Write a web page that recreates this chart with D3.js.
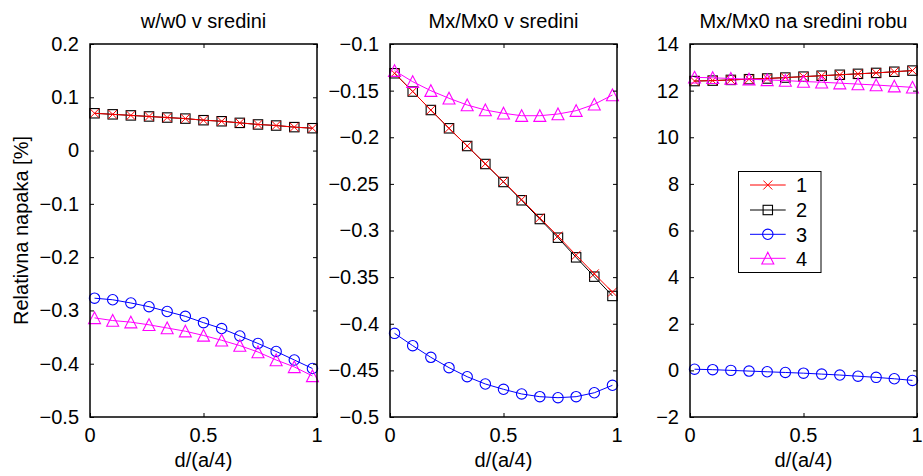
<!DOCTYPE html>
<html><head><meta charset="utf-8">
<script src="https://cdn.jsdelivr.net/npm/d3@7"></script>
<style>
body{margin:0;background:#fff}
text{font-family:"Liberation Sans",Arial,Helvetica,sans-serif;fill:#000}
</style>
</head><body>
<svg id="chart" width="923" height="476"></svg>
<script>
// ---------- data ----------
const xValues = [0.02,0.10,0.18,0.26,0.34,0.42,0.50,0.58,0.66,0.74,0.82,0.90,0.98];
const seriesNames = ["1","2","3","4"];
const panelTitles = ["w/w0 v sredini","Mx/Mx0 v sredini","Mx/Mx0 na sredini robu"];
const xLabel = "d/(a/4)";
const yLabel = "Relativna napaka [%]";
const xTicks = [0,0.5,1];

// panel 1: w/w0 v sredini
const p1_s1 = [0.070,0.068,0.066,0.064,0.062,0.060,0.057,0.055,0.052,0.049,0.047,0.044,0.042];
const p1_s2 = [0.070,0.068,0.066,0.064,0.062,0.060,0.057,0.055,0.052,0.049,0.047,0.044,0.042];
const p1_s3 = [-0.277,-0.280,-0.286,-0.293,-0.302,-0.311,-0.323,-0.334,-0.348,-0.362,-0.377,-0.393,-0.409];
const p1_s4 = [-0.314,-0.319,-0.322,-0.327,-0.333,-0.339,-0.347,-0.356,-0.366,-0.378,-0.393,-0.406,-0.423];
// panel 2: Mx/Mx0 v sredini
const p2_s1 = [-0.1314,-0.1510,-0.1708,-0.1904,-0.2094,-0.2285,-0.2475,-0.2668,-0.2865,-0.3060,-0.3265,-0.3465,-0.3660];
const p2_s2 = [-0.1314,-0.1510,-0.1708,-0.1904,-0.2094,-0.2287,-0.2480,-0.2676,-0.2877,-0.3077,-0.3288,-0.3495,-0.3702];
const p2_s3 = [-0.4103,-0.4235,-0.4360,-0.4471,-0.4568,-0.4646,-0.4703,-0.4753,-0.4782,-0.4793,-0.4782,-0.4740,-0.4660];
const p2_s4 = [-0.1286,-0.1404,-0.1501,-0.1582,-0.1654,-0.1708,-0.1743,-0.1769,-0.1769,-0.1751,-0.1715,-0.1647,-0.1547];
// panel 3: Mx/Mx0 na sredini robu
const p3_s1 = [12.41,12.43,12.46,12.49,12.52,12.56,12.60,12.64,12.68,12.72,12.76,12.81,12.86];
const p3_s2 = [12.41,12.43,12.46,12.49,12.52,12.56,12.60,12.64,12.68,12.72,12.76,12.81,12.86];
const p3_s3 = [0.05,0.03,0.00,-0.03,-0.06,-0.09,-0.12,-0.16,-0.20,-0.25,-0.30,-0.36,-0.43];
const p3_s4 = [12.57,12.55,12.52,12.49,12.46,12.43,12.39,12.36,12.32,12.28,12.24,12.19,12.14];

const panelSeries = [[p1_s1,p1_s2,p1_s3,p1_s4],[p2_s1,p2_s2,p2_s3,p2_s4],[p3_s1,p3_s2,p3_s3,p3_s4]];
const panelYDomains = [[-0.5,0.2],[-0.5,-0.1],[-2,14]];
const panelYTicks = [
  [-0.5,-0.4,-0.3,-0.2,-0.1,0,0.1,0.2],
  [-0.5,-0.45,-0.4,-0.35,-0.3,-0.25,-0.2,-0.15,-0.1],
  [-2,0,2,4,6,8,10,12,14]
];

// ---------- styles ----------
const colors = ["#ff0000","#000000","#0000ff","#ff00ff"];
const markers = ["x","square","circle","triangle"];
const drawOrder = [1,0,2,3];

const svg = d3.select("#chart");
const FS = 20;
const panelLefts = [90,390,690];
const panelW = 227, plotTop = 44, plotBottom = 417;
const fmt = v => (v < 0 ? "\u2212" : "") + String(Math.abs(v));

function drawMarker(g, type, cx, cy, color) {
  if (type === "x") {
    const s = 4.5;
    g.append("path").attr("d", `M${cx-s},${cy-s}L${cx+s},${cy+s}M${cx-s},${cy+s}L${cx+s},${cy-s}`)
      .attr("stroke", color).attr("stroke-width", 1).attr("fill", "none");
  } else if (type === "square") {
    const s = 4.7;
    g.append("rect").attr("x", cx-s).attr("y", cy-s).attr("width", 2*s).attr("height", 2*s)
      .attr("stroke", color).attr("stroke-width", 1.1).attr("fill", "none");
  } else if (type === "circle") {
    g.append("circle").attr("cx", cx).attr("cy", cy).attr("r", 5.2)
      .attr("stroke", color).attr("stroke-width", 1.1).attr("fill", "none");
  } else {
    const s = 6;
    g.append("path").attr("d", `M${cx},${cy-s}L${cx+s},${cy+s*0.95}L${cx-s},${cy+s*0.95}Z`)
      .attr("stroke", color).attr("stroke-width", 1.1).attr("fill", "none");
  }
}

panelSeries.forEach((series, pi) => {
  const left = panelLefts[pi];
  const x = d3.scaleLinear().domain([0,1]).range([left, left + panelW]);
  const y = d3.scaleLinear().domain(panelYDomains[pi]).range([plotBottom, plotTop]);
  const g = svg.append("g");

  // lines & markers
  const line = d3.line().x((d,i) => x(xValues[i])).y(d => y(d));
  drawOrder.forEach(si => {
    g.append("path").datum(series[si]).attr("d", line)
      .attr("fill","none").attr("stroke", colors[si]).attr("stroke-width", 1);
    series[si].forEach((v,i) => drawMarker(g, markers[si], x(xValues[i]), y(v), colors[si]));
  });

  // axes (inward ticks, box)
  const tl = 4;
  const axL = d3.axisLeft(y).tickValues(panelYTicks[pi]).tickSize(-tl).tickPadding(7 + tl).tickFormat(fmt);
  const axR = d3.axisRight(y).tickValues(panelYTicks[pi]).tickSize(-tl).tickFormat("");
  const axB = d3.axisBottom(x).tickValues(xTicks).tickSize(-tl).tickPadding(0).tickFormat("");
  const axT = d3.axisTop(x).tickValues(xTicks).tickSize(-tl).tickFormat("");
  [[axL,`translate(${left},0)`],[axR,`translate(${left+panelW},0)`],[axB,`translate(0,${plotBottom})`],[axT,`translate(0,${plotTop})`]]
    .forEach(([ax, tr]) => {
      const a = g.append("g").attr("transform", tr).call(ax);
      a.select(".domain").remove();
      a.selectAll(".tick line").attr("stroke","#000").attr("stroke-width",1);
      a.selectAll(".tick text").attr("font-size", FS).attr("font-family",'"Liberation Sans",Arial,sans-serif').attr("fill","#000");
    });
  g.append("rect").attr("x", left).attr("y", plotTop).attr("width", panelW).attr("height", plotBottom-plotTop)
    .attr("fill","none").attr("stroke","#000").attr("stroke-width",1.5);

  // x tick labels
  g.selectAll(".xtl").data(xTicks).enter().append("text")
    .attr("x", d => x(d)).attr("y", 442).attr("text-anchor","middle").attr("font-size", FS).text(d => String(d));

  // title & x label
  g.append("text").attr("x", left + panelW/2).attr("y", 28).attr("text-anchor","middle")
    .attr("font-size", FS).text(panelTitles[pi]);
  g.append("text").attr("x", left + panelW/2).attr("y", 467).attr("text-anchor","middle")
    .attr("font-size", FS).text(xLabel);
});

// y label
svg.append("text").attr("transform","translate(28,230.5) rotate(-90)").attr("text-anchor","middle")
  .attr("font-size", FS).text(yLabel);

// legend
const lg = svg.append("g");
lg.append("rect").attr("x",738.5).attr("y",171.5).attr("width",82.5).attr("height",101)
  .attr("fill","#fff").attr("stroke","#000").attr("stroke-width",1);
const legY = [185,210,234.3,258.3];
seriesNames.forEach((n, i) => {
  lg.append("line").attr("x1",750).attr("x2",785.7).attr("y1",legY[i]).attr("y2",legY[i])
    .attr("stroke",colors[i]).attr("stroke-width",1);
  drawMarker(lg, markers[i], 767.8, legY[i], colors[i]);
  lg.append("text").attr("x",796).attr("y",legY[i]).attr("dy","0.36em").attr("font-size",FS).text(n);
});
</script>
</body></html>
